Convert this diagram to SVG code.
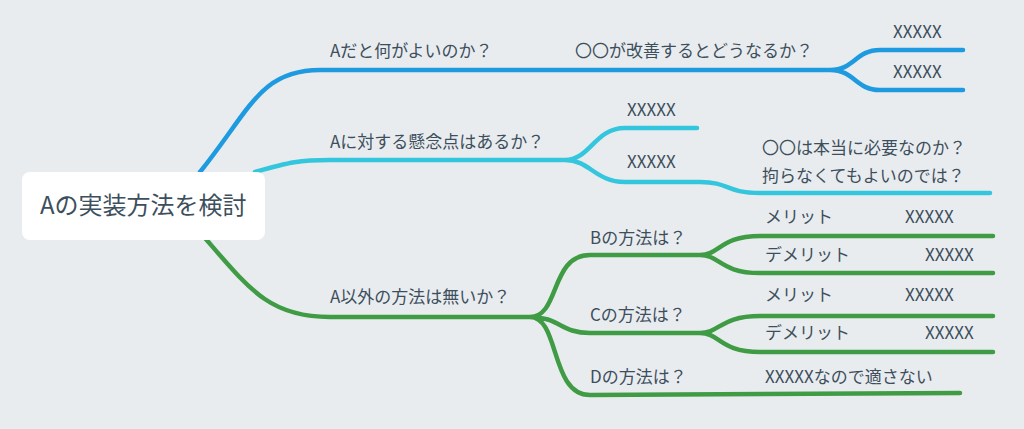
<svg xmlns="http://www.w3.org/2000/svg" width="1024" height="429" viewBox="0 0 1024 429">
<style>
text{font-family:"Noto Sans CJK JP","Noto Sans",sans-serif;fill:#3d4f5c;font-size:17px}
.big{font-size:24px}
.b{stroke:#1e9be0}.c{stroke:#33c6dc}.g{stroke:#3f9c45}
path{fill:none;stroke-width:4.5;stroke-linecap:round}
</style>
<rect width="1024" height="429" fill="#e9ecef"/>
<g id="connectors">
<path class="b" d="M200,172 C250,110 260,70 320,70 L830,70 C855,70 855,50 880,50 L963,50 M830,70 C855,70 855,90 880,90 L963,90"/>
<path class="c" d="M255,172 C290,162 300,160 330,160 L565,160 C590,160 595,128 625,128 L697,128 M565,160 C590,160 595,182 625,182 L700,182 C730,182 725,193 760,193 L990,193"/>
<path class="g" d="M205,238 C250,290 270,317 330,317 L530,317 C560,317 550,255 590,255 L700,255 C720,255 720,236 760,236 L993,236 M700,255 C720,255 720,273 760,273 L993,273 M530,317 C560,317 560,333 590,333 L700,333 C720,333 720,316 760,316 L993,316 M700,333 C720,333 720,352 760,352 L993,352 M530,317 C560,317 550,395 590,395 L960,393"/>
</g>
<g id="center"><rect x="22" y="172" width="243" height="68" rx="8" fill="#fff"/><text class="big" x="40" y="214">Aの実装方法を検討</text></g>
<g id="n1"><text x="330" y="57">Aだと何がよいのか？</text></g>
<g id="n2"><text x="575" y="57">〇〇が改善するとどうなるか？</text></g>
<g id="n3"><text x="893" y="38">XXXXX</text></g>
<g id="n4"><text x="893" y="78">XXXXX</text></g>
<g id="n5"><text x="330" y="148">Aに対する懸念点はあるか？</text></g>
<g id="n6"><text x="627" y="116">XXXXX</text></g>
<g id="n7"><text x="627" y="168">XXXXX</text></g>
<g id="n8"><text x="762" y="154">〇〇は本当に必要なのか？</text><text x="762" y="182">拘らなくてもよいのでは？</text></g>
<g id="n9"><text x="330" y="303">A以外の方法は無いか？</text></g>
<g id="n10"><text x="590" y="244">Bの方法は？</text></g>
<g id="n11"><text x="765" y="223">メリット</text><text x="905" y="223">XXXXX</text></g>
<g id="n12"><text x="765" y="261">デメリット</text><text x="925" y="261">XXXXX</text></g>
<g id="n13"><text x="590" y="321">Cの方法は？</text></g>
<g id="n14"><text x="765" y="301">メリット</text><text x="905" y="301">XXXXX</text></g>
<g id="n15"><text x="765" y="339">デメリット</text><text x="925" y="339">XXXXX</text></g>
<g id="n16"><text x="590" y="383">Dの方法は？</text></g>
<g id="n17"><text x="765" y="383">XXXXXなので適さない</text></g>
</svg>
